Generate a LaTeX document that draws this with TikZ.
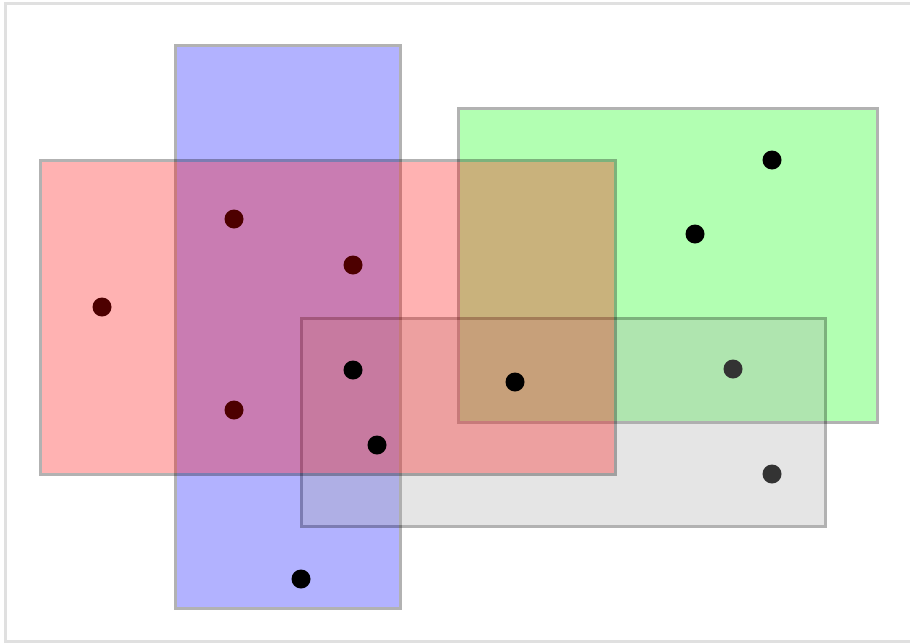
\documentclass[tikz,border=0pt]{standalone}
\definecolor{framegray}{HTML}{E0E0E0}
\definecolor{dotred}{HTML}{4D0000}
\definecolor{dotgray}{HTML}{333333}
\definecolor{setgray}{gray}{0.667}
\tikzset{
  setfill/.style={fill opacity=0.3, draw=none},
  setedge/.style={draw opacity=0.3, draw=black, line width=3pt},
  dotnode/.style={circle, inner sep=0pt, minimum size=19pt, fill=#1, draw=none},
}
\begin{document}
\begin{tikzpicture}[x=1pt, y=-1pt]
\useasboundingbox (0,0) rectangle (910,643);
\draw[framegray, line width=3pt] (5.5,3.5) rectangle (914,641.5);
% sets: fill inside the edge, edge drawn separately so they do not stack
\fill[setfill, blue] (176.5,46.5) rectangle (398.5,606.5);
\draw[setedge] (175,45) rectangle (400,608);
\fill[setfill, green] (459.5,109.5) rectangle (875.5,420.5);
\draw[setedge] (458,108) rectangle (877,422);
\fill[setfill, setgray] (302.5,319.5) rectangle (823.5,524.5);
\draw[setedge] (301,318) rectangle (825,526);
\fill[setfill, red] (41.5,161.5) rectangle (613.5,472.5);
\draw[setedge] (40,160) rectangle (615,474);
% points
\node[dotnode=dotred] (p1) at (102,307) {};
\node[dotnode=dotred] (p2) at (234,219) {};
\node[dotnode=dotred] (p3) at (353,265) {};
\node[dotnode=dotred] (p4) at (234,410) {};
\node[dotnode=black] (p5) at (353,370) {};
\node[dotnode=black] (p6) at (377,445) {};
\node[dotnode=black] (p7) at (515,382) {};
\node[dotnode=black] (p8) at (301,579) {};
\node[dotnode=black] (p9) at (772,160) {};
\node[dotnode=black] (p10) at (695,234) {};
\node[dotnode=dotgray] (p11) at (733,369) {};
\node[dotnode=dotgray] (p12) at (772,474) {};
\end{tikzpicture}
\end{document}
